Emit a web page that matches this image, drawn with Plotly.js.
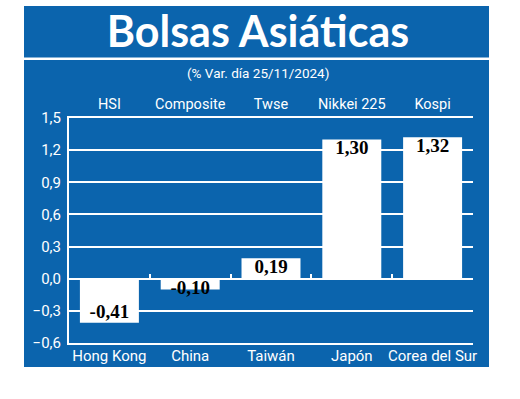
<!DOCTYPE html>
<html>
<head>
<meta charset="utf-8">
<script src="https://cdn.plot.ly/plotly-3.0.1.min.js"></script>
<style>html,body{margin:0;padding:0;background:#fff;}#chart{width:520px;height:399px;}</style>
</head>
<body>
<div id="chart"></div>
<script>
const countries = ['Hong Kong', 'China', 'Taiwán', 'Japón', 'Corea del Sur'];
const indices = ['HSI', 'Composite', 'Twse', 'Nikkei 225', 'Kospi'];
const changes = [-0.41, -0.10, 0.19, 1.30, 1.32];
const yTicks = [-0.6, -0.3, 0.0, 0.3, 0.6, 0.9, 1.2, 1.5];

const BLUE = '#0b64ad';
const LABEL_FONT = "Roboto, 'Noto Sans', sans-serif";

const traces = [
  {
    type: 'bar', x: countries, y: changes, xaxis: 'x', yaxis: 'y',
    width: 0.73,
    marker: {color: '#ffffff', line: {width: 0}},
    hoverinfo: 'skip'
  },
  {
    type: 'scatter', mode: 'text', x: countries, y: changes, xaxis: 'x', yaxis: 'y',
    texttemplate: '%{y:.2f}',
    textposition: changes.map(v => Math.abs(v) < 0.15 ? 'middle center' : (v >= 0 ? 'bottom center' : 'top center')),
    textfont: {family: "'Liberation Serif', 'DejaVu Serif', serif", size: 19, color: '#000000', weight: 700},
    hoverinfo: 'skip', showlegend: false, cliponaxis: false
  },
  {
    type: 'scatter', mode: 'none', x: indices, y: changes, xaxis: 'x2', yaxis: 'y',
    hoverinfo: 'skip', showlegend: false
  },
  {
    type: 'scatter', mode: 'none', x: countries, y: changes, xaxis: 'x3', yaxis: 'y',
    hoverinfo: 'skip', showlegend: false
  }
];

const px = v => (v - 69) / 404;
const py = v => (343 - v) / 225;

const layout = {
  width: 520, height: 399,
  margin: {l: 69, r: 47, t: 118, b: 56, pad: 0},
  paper_bgcolor: '#ffffff',
  plot_bgcolor: 'rgba(0,0,0,0)',
  showlegend: false,
  separators: ',.',
  title: {
    text: 'Bolsas Asiáticas',
    font: {family: "Lato, 'Open Sans', sans-serif", size: 43, color: '#ffffff', weight: 700},
    xref: 'container', x: 258 / 520, xanchor: 'center',
    yref: 'container', y: 1 - 32 / 399, yanchor: 'middle'
  },
  annotations: [{
    text: '(% Var. día 25/11/2024)',
    xref: 'paper', yref: 'paper',
    x: px(258), y: py(73), xanchor: 'center', yanchor: 'middle',
    showarrow: false,
    font: {family: LABEL_FONT, size: 13.5, color: '#ffffff'}
  }],
  shapes: [
    {type: 'rect', xref: 'paper', yref: 'paper', layer: 'below',
     x0: px(24), x1: px(489), y0: py(57.5), y1: py(6),
     fillcolor: BLUE, line: {width: 0}},
    {type: 'rect', xref: 'paper', yref: 'paper', layer: 'below',
     x0: px(24), x1: px(489), y0: py(367), y1: py(60),
     fillcolor: BLUE, line: {width: 0}}
  ],
  xaxis: {
    type: 'category', categoryorder: 'array', categoryarray: countries,
    range: [-0.5, 4.5],
    showgrid: false, zeroline: false,
    showline: true, linecolor: '#ffffff', linewidth: 2, mirror: true,
    ticks: '', ticklabelstandoff: -2,
    tickfont: {family: LABEL_FONT, size: 15, color: '#ffffff'},
    fixedrange: true
  },
  xaxis2: {
    type: 'category', categoryorder: 'array', categoryarray: indices,
    overlaying: 'x', side: 'top', anchor: 'y',
    range: [-0.5, 4.5],
    showgrid: false, zeroline: false, showline: false, ticks: '',
    ticklabelstandoff: 5,
    tickfont: {family: LABEL_FONT, size: 14.5, color: '#ffffff'},
    fixedrange: true
  },
  xaxis3: {
    type: 'category', categoryorder: 'array', categoryarray: countries,
    overlaying: 'x', anchor: 'free', position: py(279),
    range: [-0.5, 4.5],
    showgrid: false, zeroline: false, showline: false,
    ticks: 'inside', tickson: 'boundaries', ticklen: 5, tickwidth: 2, tickcolor: '#ffffff',
    showticklabels: false,
    fixedrange: true
  },
  yaxis: {
    range: [-0.6, 1.5],
    tickvals: yTicks, tickformat: '.1f',
    showgrid: true, gridcolor: '#ffffff', gridwidth: 2,
    zeroline: true, zerolinecolor: '#ffffff', zerolinewidth: 2,
    showline: true, linecolor: '#ffffff', linewidth: 2,
    ticks: '', ticklabelstandoff: 3,
    tickfont: {family: LABEL_FONT, size: 15, color: '#ffffff'},
    fixedrange: true
  }
};

Plotly.newPlot('chart', traces, layout, {displayModeBar: false, staticPlot: true});
</script>
</body>
</html>
